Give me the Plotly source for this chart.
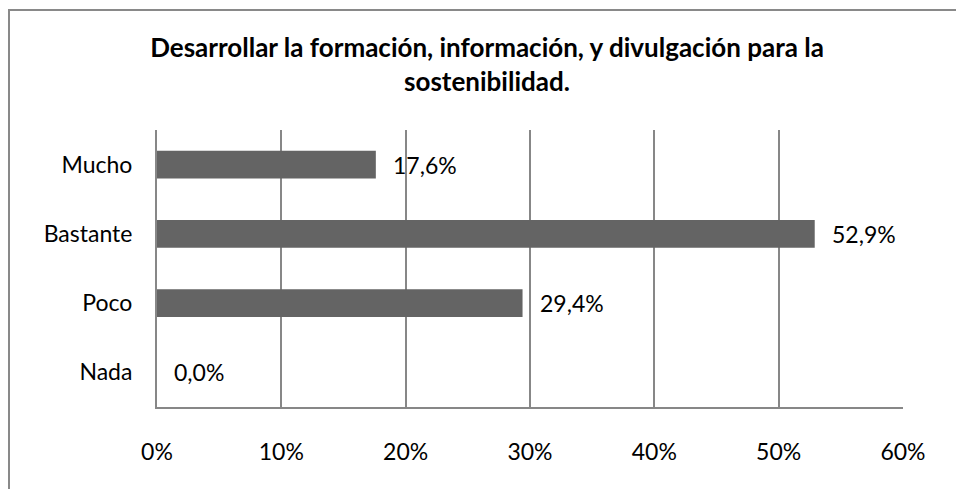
import plotly.graph_objects as go

categories = ["Mucho", "Bastante", "Poco", "Nada"]
values = [17.6, 52.9, 29.4, 0.0]
tick_vals = [0, 10, 20, 30, 40, 50, 60]
tick_text = ["0%", "10%", "20%", "30%", "40%", "50%", "60%"]
title_text = "Desarrollar la formación, información, y divulgación para la<br>sostenibilidad."

W, H = 956, 489
ML, MR, MT, MB = 157, 53, 130, 82
PW, PH = W - ML - MR, H - MT - MB

FONT = "Lato"
GRID = "#878787"
BAR = "#646464"

labels = [f"{v:.1f}".replace(".", ",") + "%" for v in values]

fig = go.Figure()
fig.add_trace(go.Bar(
    x=values, y=categories, orientation="h",
    marker=dict(color=BAR, line=dict(width=0)),
    width=0.4, hoverinfo="skip",
))

for v, c, t in zip(values, categories, labels):
    fig.add_annotation(x=v, y=c, text=t, showarrow=False,
                       xanchor="left", yanchor="middle", xshift=15,
                       font=dict(family=FONT, size=23, color="#000000"))

def px_x(px):
    return (px - ML) / PW

def px_y(py):
    return (H - MB - py) / PH

# outer chart border (left and top edges visible)
fig.add_shape(type="line", xref="paper", yref="paper",
              x0=px_x(9), y0=px_y(495), x1=px_x(9), y1=px_y(10),
              line=dict(color="#898989", width=2))
fig.add_shape(type="line", xref="paper", yref="paper",
              x0=px_x(8), y0=px_y(10), x1=px_x(960), y1=px_y(10),
              line=dict(color="#898989", width=2))

fig.update_layout(
    width=W, height=H,
    margin=dict(l=ML, r=MR, t=MT, b=MB, autoexpand=False),
    paper_bgcolor="white", plot_bgcolor="white",
    showlegend=False,
    font=dict(family=FONT, size=23, color="#000000"),
    title=dict(text=title_text, x=487 / W, xanchor="center",
               y=1 - 57 / H, yanchor="top", yref="container",
               font=dict(family=FONT, size=26, color="#000000", weight="bold")),
    xaxis=dict(range=[0, 60], tickvals=tick_vals, ticktext=tick_text,
               showgrid=True, gridcolor=GRID, gridwidth=2,
               showline=True, linecolor=GRID, linewidth=2,
               zeroline=False, ticks="", ticklabelstandoff=23,
               fixedrange=True, automargin=False),
    yaxis=dict(autorange="reversed", showgrid=False,
               showline=True, linecolor=GRID, linewidth=2,
               zeroline=False, ticks="", ticklabelstandoff=18,
               fixedrange=True, automargin=False),
)

fig.write_html("out.html", config={"displayModeBar": False},
               post_script="document.body.style.margin='0';document.body.style.overflow='hidden';")
